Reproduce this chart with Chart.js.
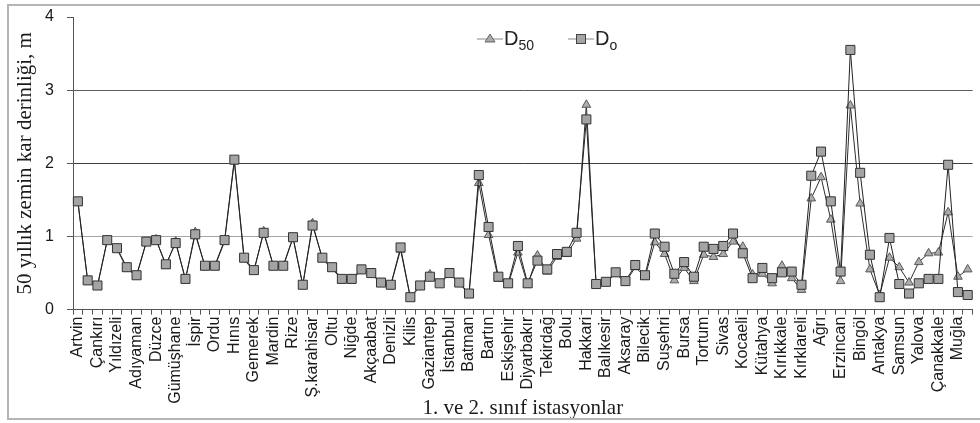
<!DOCTYPE html>
<html>
<head>
<meta charset="utf-8">
<script src="https://cdn.jsdelivr.net/npm/chart.js@4.4.1/dist/chart.umd.min.js"></script>
<style>
html,body{margin:0;padding:0;background:#fff;}
#wrap{position:relative;width:980px;height:423px;overflow:hidden;}
#frame{position:absolute;left:7px;top:4px;width:990px;height:412px;border:2px solid #b4b4b4;pointer-events:none;}
.lg{position:absolute;top:28px;height:24px;font-family:"Liberation Sans",Arial,sans-serif;font-size:20px;line-height:20px;color:#222;white-space:nowrap;}
.lg svg{position:absolute;left:0;top:4px;}
.lg .t{position:absolute;left:27px;top:0;}
.lg sub{font-size:14px;vertical-align:baseline;position:relative;top:5px;}
</style>
</head>
<body>
<div id="wrap">
<canvas id="c" width="980" height="423"></canvas>
<div id="frame"></div>
<div class="lg" style="left:477px;">
  <svg width="27" height="14"><line x1="0" y1="7" x2="26" y2="7" stroke="#888" stroke-width="1"/><polygon points="13,2 18,10 8,10" fill="#a9a9a9" stroke="#666" stroke-width="1"/></svg>
  <span class="t">D<sub>50</sub></span>
</div>
<div class="lg" style="left:568px;">
  <svg width="27" height="14"><line x1="0" y1="7" x2="26" y2="7" stroke="#888" stroke-width="1"/><rect x="8.5" y="2.5" width="9" height="9" fill="#a4a4a4" stroke="#444" stroke-width="1"/></svg>
  <span class="t">D<sub>o</sub></span>
</div>
</div>
<script>
// Station names (labelled every second category on the axis)
const stations = ["Artvin","Çankırı","Yıldızeli","Adıyaman","Düzce","Gümüşhane","İspir","Ordu","Hınıs","Gemerek","Mardin","Rize","Ş.karahisar","Oltu","Niğde","Akçaabat","Denizli","Kilis","Gaziantep","İstanbul","Batman","Bartın","Eskişehir","Diyarbakır","Tekirdağ","Bolu","Hakkari","Balıkesir","Aksaray","Bilecik","Suşehri","Bursa","Tortum","Sivas","Kocaeli","Kütahya","Kırıkkale","Kırklareli","Ağrı","Erzincan","Bingöl","Antakya","Samsun","Yalova","Çanakkale","Muğla"];
const categoryCount = 92;

const d50 = [1.47,0.39,0.32,0.94,0.83,0.56,0.46,0.92,0.96,0.60,0.93,0.41,1.06,0.58,0.59,0.93,2.03,0.69,0.52,1.07,
             0.59,0.59,0.98,0.33,1.18,0.69,0.56,0.41,0.41,0.54,0.49,0.36,0.33,0.82,0.16,0.32,0.48,0.35,0.49,0.36,
             0.21,1.73,1.02,0.42,0.34,0.78,0.34,0.74,0.52,0.72,0.76,0.97,2.80,0.34,0.37,0.49,0.37,0.58,0.45,0.92,
             0.76,0.40,0.57,0.39,0.75,0.72,0.76,0.93,0.86,0.48,0.49,0.36,0.60,0.43,0.27,1.52,1.81,1.23,0.39,2.79,
             1.45,0.55,0.20,0.71,0.58,0.37,0.65,0.77,0.78,1.33,0.45,0.55];
const dO  = [1.48,0.40,0.33,0.95,0.84,0.58,0.47,0.93,0.95,0.62,0.91,0.42,1.03,0.60,0.60,0.95,2.05,0.71,0.54,1.05,
             0.60,0.60,0.99,0.34,1.15,0.71,0.58,0.42,0.42,0.55,0.50,0.37,0.34,0.85,0.17,0.33,0.45,0.36,0.50,0.37,
             0.22,1.84,1.13,0.45,0.36,0.87,0.36,0.67,0.55,0.76,0.79,1.05,2.60,0.35,0.38,0.51,0.39,0.61,0.47,1.04,
             0.86,0.49,0.65,0.45,0.86,0.83,0.87,1.04,0.77,0.43,0.57,0.43,0.51,0.52,0.34,1.83,2.16,1.48,0.52,3.55,
             1.87,0.75,0.17,0.98,0.35,0.22,0.36,0.42,0.42,1.98,0.24,0.20];

const yTicks = [0,1,2,3,4];
const xTitle = "1. ve 2. sınıf istasyonlar";
const yTitle = "50 yıllık zemin kar derinliği, m";

const labels = [];
for (let i = 0; i < categoryCount; i++) labels.push(i % 2 === 0 ? stations[i/2] : "");

const gridColors = {1:'#a6a6a6', 2:'#3e3e3e', 3:'#5c5c5c'};

new Chart(document.getElementById('c'), {
  type: 'line',
  data: {
    labels: labels,
    datasets: [
      {label:'D50', data:d50, order:1, borderColor:'#2e2e2e', borderWidth:1, tension:0,
       pointStyle:'triangle', pointRadius:5, pointBackgroundColor:'#acacac', pointBorderColor:'#5a5a5a', pointBorderWidth:1},
      {label:'Do', data:dO, order:0, borderColor:'#222', borderWidth:1, tension:0,
       pointStyle:'rect', pointRadius:6.4, pointBackgroundColor:'#a4a4a4', pointBorderColor:'#333', pointBorderWidth:1}
    ]
  },
  options: {
    responsive:false, animation:false, devicePixelRatio:1,
    layout:{padding:{left:8,right:6,top:17,bottom:2}},
    plugins:{legend:{display:false}, tooltip:{enabled:false}},
    scales:{
      x:{
        offset:true,
        afterFit:(s)=>{ s.paddingLeft = 0; s.paddingRight = 0; },
        grid:{offset:true, drawOnChartArea:false, drawTicks:true, tickLength:5, color:'#555'},
        border:{color:'#555', width:1},
        ticks:{autoSkip:false, maxRotation:90, minRotation:90, padding:2, color:'#1a1a1a',
               font:{family:'"Liberation Sans", Arial, sans-serif', size:16}},
        title:{display:true, text:xTitle, color:'#1a1a1a', padding:{top:-10,bottom:0},
               font:{family:'"Liberation Serif", "Times New Roman", serif', size:21}}
      },
      y:{
        min:0, max:4,
        afterBuildTicks:(s)=>{ s.ticks = yTicks.map(v=>({value:v})); },
        afterFit:(s)=>{ s.paddingTop = 0; s.paddingBottom = 0; s.width = 65; },
        ticks:{padding:13, color:'#1a1a1a', font:{family:'"Liberation Sans", Arial, sans-serif', size:16}},
        grid:{color:(c)=> (c.tick && gridColors[c.tick.value]) || 'rgba(0,0,0,0)', tickColor:'#555', tickLength:6, lineWidth:1},
        border:{color:'#555', width:1},
        title:{display:true, text:yTitle, color:'#1a1a1a', padding:{top:5,bottom:6},
               font:{family:'"Liberation Serif", "Times New Roman", serif', size:21}}
      }
    }
  }
});
</script>
</body>
</html>
